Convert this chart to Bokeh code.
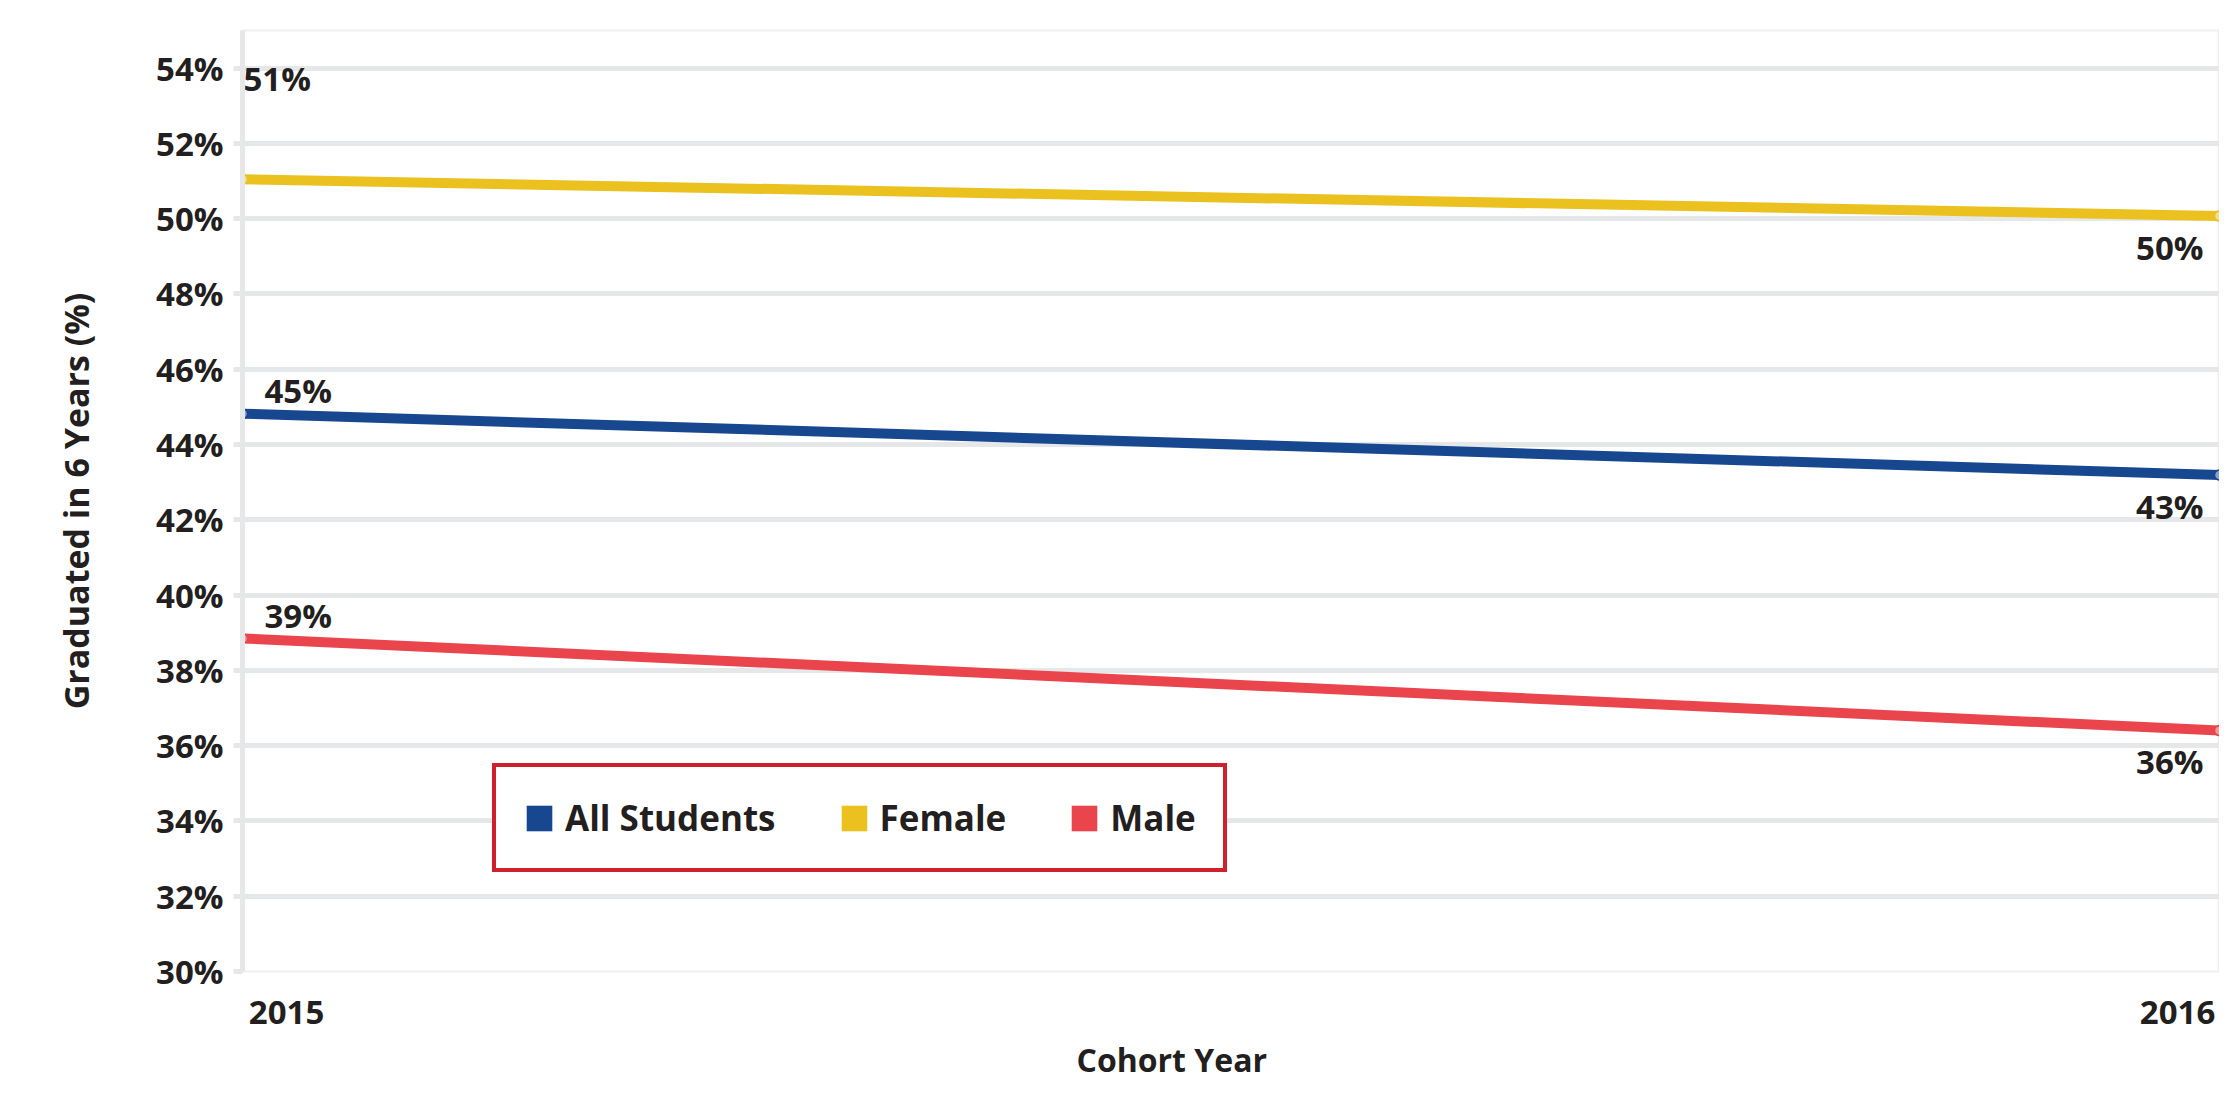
from bokeh.plotting import figure
from bokeh.models import (Range1d, FixedTicker, Legend, LegendItem, Title,
                          LinearAxis, ColumnDataSource)
from bokeh.embed import file_html
from bokeh.resources import INLINE
from bokeh.core.properties import value

# ---------------- data ----------------
years = [2015, 2016]
series_names = ["All Students", "Female", "Male"]
all_students = [44.82, 43.19]
female = [51.05, 50.07]
male = [38.85, 36.40]
label_all = ["45%", "43%"]
label_female = ["51%", "50%"]
label_male = ["39%", "36%"]
y_ticks = [30, 32, 34, 36, 38, 40, 42, 44, 46, 48, 50, 52, 54]
y_tick_labels = ["30%", "32%", "34%", "36%", "38%", "40%", "42%", "44%",
                 "46%", "48%", "50%", "52%", "54%"]
x_title = "Cohort Year"
y_title = "Graduated in 6 Years (%)"

# ---------------- style ----------------
FONT = "Open Sans"
TXT = "#231f20"
GRID = "#e6e7e8"
colors = ["#17478e", "#ebc11f", "#ea444d"]
fills = ["#8c9fcf", "#f6dd8a", "#f39a93"]

p = figure(width=2219, height=1090, output_backend="svg", toolbar_location=None,
           x_range=Range1d(years[0], years[-1]), y_range=Range1d(30, 55),
           min_border_left=242, min_border_right=0, min_border_top=30,
           min_border_bottom=119)
p.background_fill_color = "white"
p.border_fill_color = "white"
p.outline_line_color = "#efefef"
p.outline_line_width = 2

p.xaxis.visible = False
p.xgrid.visible = False

p.ygrid.ticker = FixedTicker(ticks=y_ticks + [55])
p.ygrid.grid_line_color = GRID
p.ygrid.grid_line_width = 5

yax = p.yaxis[0]
yax.ticker = FixedTicker(ticks=y_ticks)
yax.major_label_overrides = {t: l for t, l in zip(y_ticks, y_tick_labels)}
yax.axis_line_color = GRID
yax.axis_line_width = 5
yax.major_tick_line_color = GRID
yax.major_tick_line_width = 5
yax.major_tick_out = 9
yax.major_tick_in = 0
yax.minor_tick_line_color = None
yax.major_label_standoff = 10
yax.major_label_text_font = FONT
yax.major_label_text_font_style = "bold"
yax.major_label_text_font_size = "33px"
yax.major_label_text_color = TXT
yax.axis_label = y_title
yax.axis_label_text_font = FONT
yax.axis_label_text_font_style = "bold"
yax.axis_label_text_font_size = "34px"
yax.axis_label_text_color = TXT
yax.axis_label_standoff = 54

# x tick labels: first one sits just right of the axis, last one just left of the edge
span = (years[-1] - years[0])
p.extra_x_ranges = {"lab": Range1d(years[0] - 0.0233 * span, years[-1] + 0.0222 * span)}
xax = LinearAxis(x_range_name="lab", ticker=FixedTicker(ticks=years),
                 major_label_overrides={y: str(y) for y in years})
xax.axis_line_color = None
xax.major_tick_line_color = None
xax.minor_tick_line_color = None
xax.major_tick_out = 0
xax.major_tick_in = 0
xax.major_label_standoff = 29
xax.major_label_text_font = FONT
xax.major_label_text_font_style = "bold"
xax.major_label_text_font_size = "33px"
xax.major_label_text_color = TXT
p.add_layout(xax, "below")

p.add_layout(Title(text=x_title, align="left", offset=834, standoff=18,
                   text_font=FONT, text_font_style="bold",
                   text_font_size="32px", text_color=TXT), "below")

# ---------------- lines, points ----------------
data = [all_students, female, male]
labels = [label_all, label_female, label_male]
for vals, col, fc in zip(data, colors, fills):
    p.line(years, vals, line_color=col, line_width=10)
    p.scatter(years, vals, size=10, fill_color=fc, line_color=col, line_width=1.5)

# data labels: first point above-right, last point below-left
start_offsets = [(22, -23), (1, -101), (22, -23)]
for vals, labs, (dx, dy) in zip(data, labels, start_offsets):
    src = ColumnDataSource(dict(x=[years[0]], y=[vals[0]], t=[labs[0]]))
    p.text(x="x", y="y", text="t", source=src, x_offset=dx, y_offset=dy,
           text_align="left", text_baseline="middle", text_font=value(FONT),
           text_font_style="bold", text_font_size="33px", text_color=TXT)
    src2 = ColumnDataSource(dict(x=[years[1]], y=[vals[1]], t=[labs[1]]))
    p.text(x="x", y="y", text="t", source=src2, x_offset=-16, y_offset=31,
           text_align="right", text_baseline="middle", text_font=value(FONT),
           text_font_style="bold", text_font_size="33px", text_color=TXT)

# ---------------- legend ----------------
nan = float("nan")
items = []
for name, col in zip(series_names, colors):
    r = p.quad(left=[nan], right=[nan], top=[nan], bottom=[nan],
               fill_color=col, line_color=None)
    items.append(LegendItem(label=name, renderers=[r]))
legend = Legend(items=items, orientation="horizontal", location=(250, 99),
                border_line_color="#d0202e", border_line_width=4,
                border_line_alpha=1.0,
                padding=27, spacing=62, glyph_width=32, glyph_height=32,
                label_standoff=10, label_text_font=FONT,
                label_text_font_style="bold", label_text_font_size="35px",
                label_text_color=TXT, margin=0, background_fill_alpha=1)
p.add_layout(legend)

open("out.html", "w").write(file_html(p, INLINE))
